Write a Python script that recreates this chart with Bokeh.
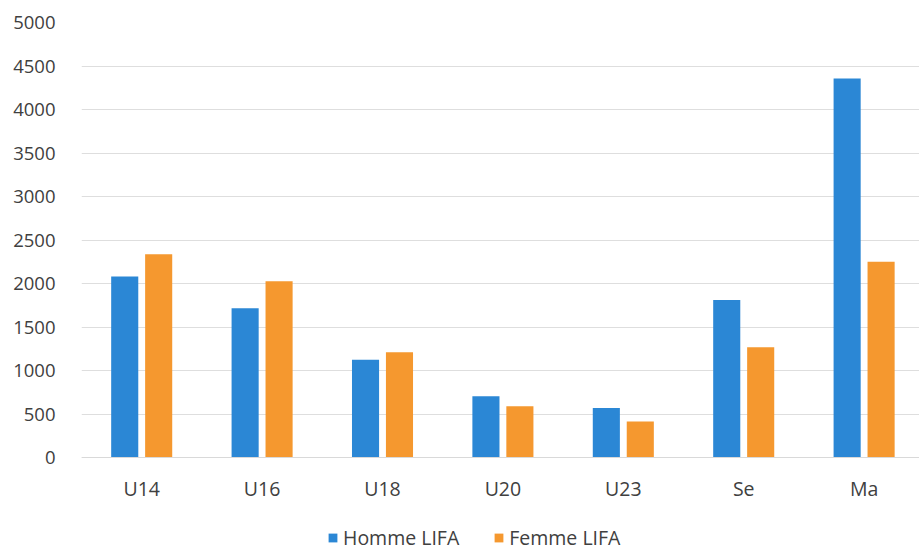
import numpy as np
from bokeh.plotting import figure
from bokeh.models import ColumnDataSource, Range1d, FixedTicker, Legend, LegendItem
from bokeh.embed import file_html
from bokeh.resources import INLINE

categories = ["U14", "U16", "U18", "U20", "U23", "Se", "Ma"]
homme = [2080, 1715, 1123, 705, 570, 1810, 4355]
femme = [2335, 2025, 1210, 588, 415, 1268, 2250]
y_ticks = [0, 500, 1000, 1500, 2000, 2500, 3000, 3500, 4000, 4500, 5000]

FONT = "Open Sans"
BLUE = "#2b87d5"
ORANGE = "#f5982f"

x = np.arange(len(categories))
src = ColumnDataSource(dict(xh=x - 0.141, xf=x + 0.141, homme=homme, femme=femme))

# frame spans page y 22..551; value 0 sits at y=457 (94 px above the bottom)
px_per_unit = 435 / 5000
y_start = -94 / px_per_unit

p = figure(width=919, height=551, output_backend="svg", toolbar_location=None,
           x_range=Range1d(-0.5, 6.46), y_range=Range1d(y_start, 5000),
           min_border_left=81, min_border_right=0, min_border_top=22, min_border_bottom=0)
p.outline_line_color = None
p.background_fill_color = "white"

rh = p.vbar(x="xh", top="homme", width=0.225, source=src, fill_color=BLUE, line_color=None)
rf = p.vbar(x="xf", top="femme", width=0.225, source=src, fill_color=ORANGE, line_color=None)

p.xaxis.fixed_location = 0
p.xaxis.ticker = FixedTicker(ticks=list(x))
p.xaxis.major_label_overrides = {int(i): c for i, c in zip(x, categories)}
p.yaxis.ticker = FixedTicker(ticks=y_ticks)

for ax in (p.xaxis, p.yaxis):
    ax.major_tick_line_color = None
    ax.minor_tick_line_color = None
    ax.major_label_text_font = FONT
    ax.major_label_text_color = "#404040"
p.yaxis.major_label_text_font_size = "18.5px"
p.xaxis.major_label_text_font_size = "19.5px"
p.yaxis.axis_line_color = None
p.yaxis.major_label_standoff = 20
p.xaxis.axis_line_color = "#d9d9d9"
p.xaxis.major_label_standoff = 11

p.xgrid.grid_line_color = None
p.ygrid.grid_line_color = "#dedede"
p.ygrid.grid_line_width = 1

legend = Legend(items=[LegendItem(label="Homme LIFA", renderers=[rh]),
                       LegendItem(label="Femme LIFA", renderers=[rf])],
                orientation="horizontal", location=(246, 0),
                border_line_color=None, background_fill_alpha=0,
                padding=0, margin=0, spacing=34, glyph_width=11, glyph_height=11,
                label_height=20,
                label_standoff=5, label_text_font=FONT, label_text_font_size="19.5px",
                label_text_color="#404040")
p.add_layout(legend, "center")

open("out.html", "w").write(file_html(p, INLINE))
